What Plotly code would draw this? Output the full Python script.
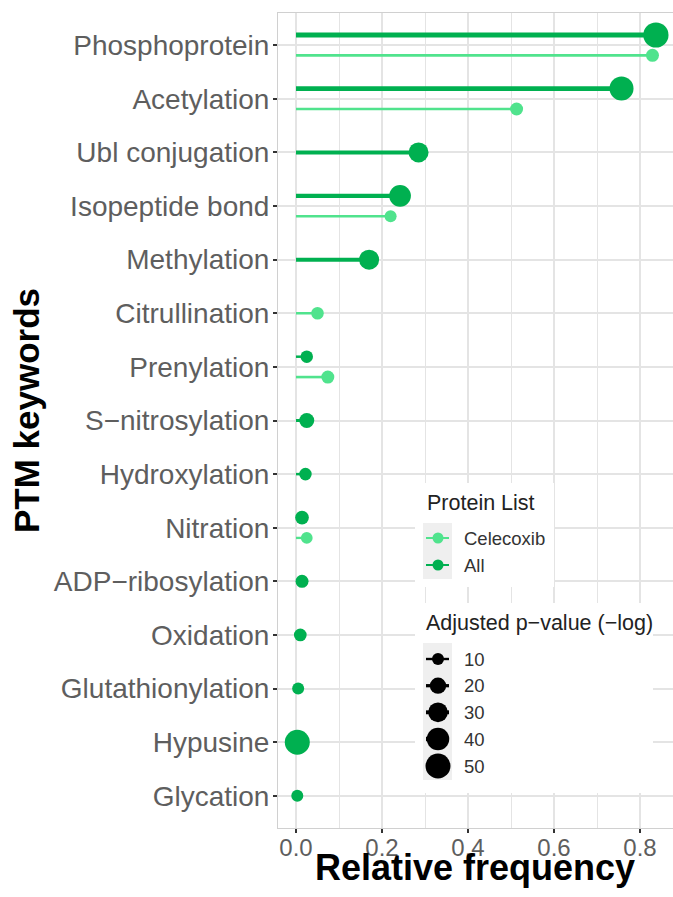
import math
import plotly.graph_objects as go

# ---------------- data ----------------
categories = ["Phosphoprotein", "Acetylation", "Ubl conjugation", "Isopeptide bond",
              "Methylation", "Citrullination", "Prenylation", "S\u2212nitrosylation",
              "Hydroxylation", "Nitration", "ADP\u2212ribosylation", "Oxidation",
              "Glutathionylation", "Hypusine", "Glycation"]

all_freq = [0.837, 0.757, 0.285, 0.242, 0.170, None, 0.025, 0.025,
            0.022, 0.014, 0.014, 0.010, 0.005, 0.003, 0.003]
all_pval = [51, 46, 31, 37, 31, None, 11, 16.5, 11, 13.5, 12, 11.4, 10, 50, 10]

cel_freq = [0.829, 0.513, None, 0.220, None, 0.050, 0.074, None,
            None, 0.025, None, None, None, None, None]
cel_pval = [12, 12, None, 10, None, 11, 12, None, None, 9.5, None, None, None, None, None]

legend_groups = ["Celecoxib", "All"]
size_breaks = [10, 20, 30, 40, 50]

COL_ALL = "#00B050"
COL_CEL = "#50E38D"

# ---------------- geometry ----------------
W, H = 673, 897
L, R, T, B = 278, 0, 13, 69
PW, PH = W - L - R, H - T - B
DODGE = 0.19


def size_px(v):
    return 1.5 + 3.32 * math.sqrt(v)


def line_w(v):
    return size_px(v) / 5.0


def pxx(px):
    return (px - L) / PW


def pxy(py):
    return (H - B - py) / PH


fig = go.Figure()

series = [("All", all_freq, all_pval, COL_ALL, -1), ("Celecoxib", cel_freq, cel_pval, COL_CEL, +1)]
for name, freqs, pvals, col, sgn in series:
    xs, ys, ss = [], [], []
    for i, (f, p) in enumerate(zip(freqs, pvals)):
        if f is None:
            continue
        other = cel_freq[i] if name == "All" else all_freq[i]
        y = i + (sgn * DODGE if other is not None else 0)
        fig.add_trace(go.Scatter(x=[0, f], y=[y, y], mode="lines",
                                 line=dict(color=col, width=line_w(p)),
                                 showlegend=False, hoverinfo="skip"))
        xs.append(f); ys.append(y); ss.append(size_px(p))
    fig.add_trace(go.Scatter(x=xs, y=ys, mode="markers", name=name,
                             marker=dict(color=col, size=ss, opacity=1, line=dict(width=0)),
                             showlegend=False))

# ---------------- legend (drawn on a pixel axis) ----------------
def box(x0, y0, x1, y1, color):
    fig.add_trace(go.Scatter(x=[x0, x1, x1, x0, x0], y=[y0, y0, y1, y1, y0],
                             mode="lines", fill="toself", fillcolor=color,
                             line=dict(width=0), xaxis="x2", yaxis="y2",
                             showlegend=False, hoverinfo="skip"))

box(415, 483, 554, 587, "white")
box(415, 603, 653, 793, "white")
box(423, 523, 452, 579, "#EFEFEF")
box(423, 643, 452, 780, "#EFEFEF")

key_x0, key_x1, key_cx = 426, 449, 438
grp_y = [538, 565]
for g, yy in zip(legend_groups, grp_y):
    col = COL_CEL if g == "Celecoxib" else COL_ALL
    fig.add_trace(go.Scatter(x=[key_x0, key_x1], y=[yy, yy], mode="lines",
                             line=dict(color=col, width=2), xaxis="x2", yaxis="y2",
                             showlegend=False, hoverinfo="skip"))
    fig.add_trace(go.Scatter(x=[key_cx], y=[yy], mode="markers",
                             marker=dict(color=col, size=11, opacity=1, line=dict(width=0)),
                             xaxis="x2", yaxis="y2", showlegend=False, hoverinfo="skip"))

size_y = [659, 685.7, 712.3, 739, 766]
for v, yy in zip(size_breaks, size_y):
    fig.add_trace(go.Scatter(x=[key_x0, key_x1], y=[yy, yy], mode="lines",
                             line=dict(color="black", width=line_w(v)), xaxis="x2", yaxis="y2",
                             showlegend=False, hoverinfo="skip"))
    fig.add_trace(go.Scatter(x=[key_cx], y=[yy], mode="markers",
                             marker=dict(color="black", size=size_px(v), opacity=1, line=dict(width=0)),
                             xaxis="x2", yaxis="y2", showlegend=False, hoverinfo="skip"))

FONT = "Liberation Sans, Arial, Helvetica, sans-serif"
ann = []
ann.append(dict(text="Protein List", x=pxx(425), y=pxy(503), xanchor="left", yanchor="middle",
                font=dict(size=21.5, color="#222222", family=FONT)))
for g, yy in zip(legend_groups, grp_y):
    ann.append(dict(text=g, x=pxx(462), y=pxy(yy), xanchor="left", yanchor="middle",
                    font=dict(size=18.5, color="#333333", family=FONT)))
ann.append(dict(text="Adjusted p\u2212value (\u2212log)", x=pxx(424), y=pxy(623), xanchor="left",
                yanchor="middle", font=dict(size=21.5, color="#222222", family=FONT)))
for v, yy in zip(size_breaks, size_y):
    ann.append(dict(text=str(v), x=pxx(462), y=pxy(yy), xanchor="left", yanchor="middle",
                    font=dict(size=18.5, color="#333333", family=FONT)))
ann.append(dict(text="<b>PTM keywords</b>", x=pxx(27), y=pxy(411), xanchor="center",
                yanchor="middle", textangle=-90, font=dict(size=35, color="black", family=FONT)))
ann.append(dict(text="<b>Relative frequency</b>", x=pxx(475), y=pxy(867), xanchor="center",
                yanchor="middle", font=dict(size=36, color="black", family=FONT)))
for a in ann:
    a.update(xref="paper", yref="paper", showarrow=False)

x0_val = -(296 - L) / 430.0
x1_val = (W - 296) / 430.0

fig.update_layout(
    width=W, height=H,
    margin=dict(l=L, r=R, t=T, b=B, pad=0),
    plot_bgcolor="white", paper_bgcolor="white",
    showlegend=False,
    annotations=ann,
    xaxis=dict(range=[x0_val, x1_val], tickvals=[0, 0.2, 0.4, 0.6, 0.8],
               ticktext=["0.0", "0.2", "0.4", "0.6", "0.8"],
               showgrid=True, gridcolor="#E4E4E4", gridwidth=1.5,
               minor=dict(tickvals=[0.1, 0.3, 0.5, 0.7], showgrid=True,
                          gridcolor="#E4E4E4", gridwidth=1.2),
               zeroline=False, showline=True, linecolor="#D0D0D0", linewidth=1, mirror=True,
               ticks="outside", ticklen=4, tickwidth=1.5, tickcolor="#333333",
               ticklabelstandoff=-6,
               tickfont=dict(size=24, color="#5E5E5E", family=FONT)),
    yaxis=dict(range=[14.6, -0.6], tickvals=list(range(len(categories))), ticktext=categories,
               showgrid=True, gridcolor="#E4E4E4", gridwidth=1.5,
               zeroline=False, showline=True, linecolor="#D0D0D0", linewidth=1, mirror=True,
               ticks="outside", ticklen=4, tickwidth=1.5, tickcolor="#333333",
               ticklabelstandoff=-2,
               tickfont=dict(size=28, color="#5E5E5E", family=FONT)),
    xaxis2=dict(range=[L, W], overlaying="x", anchor="y2", visible=False, fixedrange=True),
    yaxis2=dict(range=[H - B, T], overlaying="y", anchor="x2", visible=False, fixedrange=True),
)

fig.write_html("out.html", config={"displayModeBar": False},
               post_script="document.body.style.margin='0';")
